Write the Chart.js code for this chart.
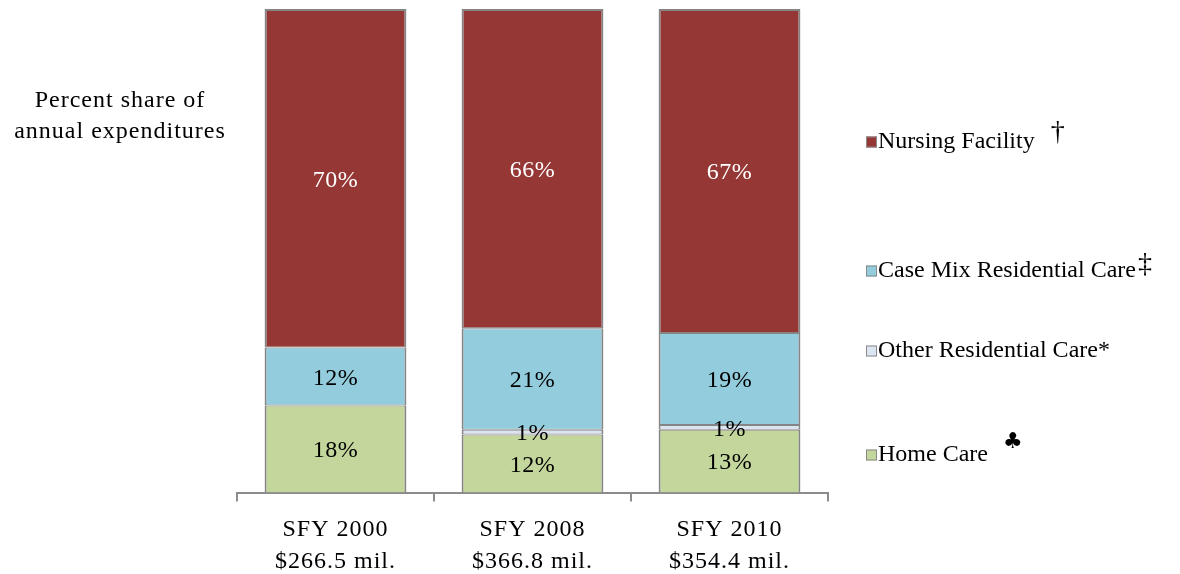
<!DOCTYPE html>
<html>
<head>
<meta charset="utf-8">
<style>
  html, body { margin: 0; padding: 0; background: #ffffff; }
  #wrap { width: 1180px; height: 574px; position: relative; }
</style>
<script src="https://cdn.jsdelivr.net/npm/chart.js@4/dist/chart.umd.min.js"></script>
</head>
<body>
<div id="wrap"><canvas id="chart" width="1180" height="574"></canvas></div>
<script>
// Fiscal years and total spending shown under each bar
const years = ['SFY 2000', 'SFY 2008', 'SFY 2010'];
const totals = ['$266.5 mil.', '$366.8 mil.', '$354.4 mil.'];

// Percent share of annual expenditures by service type
const homeCare = [18, 12, 13];
const otherResidential = [0, 1, 1];
const caseMixResidential = [12, 21, 19];
const nursingFacility = [70, 66, 67];

const seriesNames = ['Home Care', 'Other Residential Care*', 'Case Mix Residential Care', 'Nursing Facility'];
const seriesMarks = ['\u2663', '', '\u2021', '\u2020'];
const seriesColors = ['#C3D69B', '#DCE6F2', '#93CDDD', '#953735'];
const labelColors = ['#000000', '#000000', '#000000', '#ffffff'];

const axisTitle = ['Percent share of', 'annual expenditures'];

const SERIF = '"Liberation Serif", "Times New Roman", serif';
const FONT_SIZE = 24;

// Loose letter spacing for the axis tick labels
const textSpacing = {
  id: 'textSpacing',
  beforeDraw(chart) { chart.ctx.letterSpacing = '1px'; }
};

// Percent labels centred inside each segment
const segmentLabels = {
  id: 'segmentLabels',
  afterDatasetsDraw(chart) {
    const ctx = chart.ctx;
    ctx.save();
    ctx.letterSpacing = '0.5px';
    ctx.font = FONT_SIZE + 'px ' + SERIF;
    ctx.textAlign = 'center';
    ctx.textBaseline = 'middle';
    chart.data.datasets.forEach((ds, di) => {
      const meta = chart.getDatasetMeta(di);
      meta.data.forEach((bar, i) => {
        const v = ds.data[i];
        if (!v) return;
        const p = bar.getProps(['x', 'y', 'base'], true);
        ctx.fillStyle = labelColors[di];
        ctx.fillText(v + '%', p.x, (p.y + p.base) / 2 + 2);
      });
    });
    ctx.restore();
  }
};

// Axis caption on the left and the legend on the right
const sideText = {
  id: 'sideText',
  afterDraw(chart) {
    const ctx = chart.ctx;
    ctx.save();
    ctx.letterSpacing = '1px';
    ctx.font = FONT_SIZE + 'px ' + SERIF;
    ctx.fillStyle = '#000000';
    ctx.textAlign = 'center';
    ctx.textBaseline = 'middle';
    ctx.fillText(axisTitle[0], 120, 101);
    ctx.fillText(axisTitle[1], 120, 132);

    // legend entries, top to bottom, with their footnote marks
    const rows = [
      { idx: 3, y: 142, gap: 16, rise: 9, size: 28, font: SERIF },
      { idx: 2, y: 271, gap: 2, rise: 6, size: 28, font: SERIF },
      { idx: 1, y: 351 },
      { idx: 0, y: 455, gap: 15, rise: 13, size: 22, font: '"DejaVu Sans"' }
    ];
    ctx.textAlign = 'left';
    rows.forEach(r => {
      const boxX = 866, size = 11;
      ctx.fillStyle = seriesColors[r.idx];
      ctx.fillRect(boxX, r.y - size / 2, size, size);
      ctx.strokeStyle = '#8a8a8a';
      ctx.lineWidth = 1;
      ctx.strokeRect(boxX + 0.5, r.y - size / 2 + 0.5, size - 1, size - 1);
      ctx.fillStyle = '#000000';
      ctx.letterSpacing = '0px';
      ctx.font = FONT_SIZE + 'px ' + SERIF;
      const name = seriesNames[r.idx];
      ctx.fillText(name, 878, r.y);
      const w = ctx.measureText(name).width;
      const mark = seriesMarks[r.idx];
      if (mark) {
        ctx.font = r.size + 'px ' + r.font;
        ctx.fillText(mark, 878 + w + r.gap, r.y - r.rise);
      }
    });
    ctx.restore();
  }
};

// Each segment keeps a single outline; the shared edges between stacked
// segments are split between the two neighbours.
function segmentBorder(di) {
  return (c) => {
    const v = c.dataset.data[c.dataIndex];
    if (!v) return 0;
    return {
      left: 2,
      right: 2,
      top: di === 3 ? 2 : 1,
      bottom: di === 0 ? 0 : 1
    };
  };
}

const ctx = document.getElementById('chart').getContext('2d');
new Chart(ctx, {
  type: 'bar',
  data: {
    labels: years.map((y, i) => [y, totals[i]]),
    datasets: [homeCare, otherResidential, caseMixResidential, nursingFacility].map((d, i) => ({
      label: seriesNames[i],
      data: d,
      backgroundColor: seriesColors[i],
      borderColor: '#858585',
      borderWidth: segmentBorder(i),
      borderSkipped: false,
      categoryPercentage: 0.72,
      barPercentage: 1.0
    }))
  },
  options: {
    responsive: false,
    animation: false,
    layout: { padding: { left: 237, right: 352, top: 9, bottom: -16 } },
    plugins: {
      legend: { display: false },
      tooltip: { enabled: false }
    },
    scales: {
      x: {
        stacked: true,
        grid: {
          offset: true,
          drawOnChartArea: false,
          drawTicks: true,
          tickLength: 9,
          color: '#8c8c8c',
          lineWidth: 2
        },
        border: { display: true, color: '#8c8c8c', width: 2 },
        ticks: {
          color: '#000000',
          font: { family: SERIF, size: FONT_SIZE, lineHeight: 1.3 },
          padding: 13,
          maxRotation: 0
        }
      },
      y: {
        stacked: true,
        display: false,
        min: 0,
        max: 100
      }
    }
  },
  plugins: [textSpacing, segmentLabels, sideText]
});
</script>
</body>
</html>
